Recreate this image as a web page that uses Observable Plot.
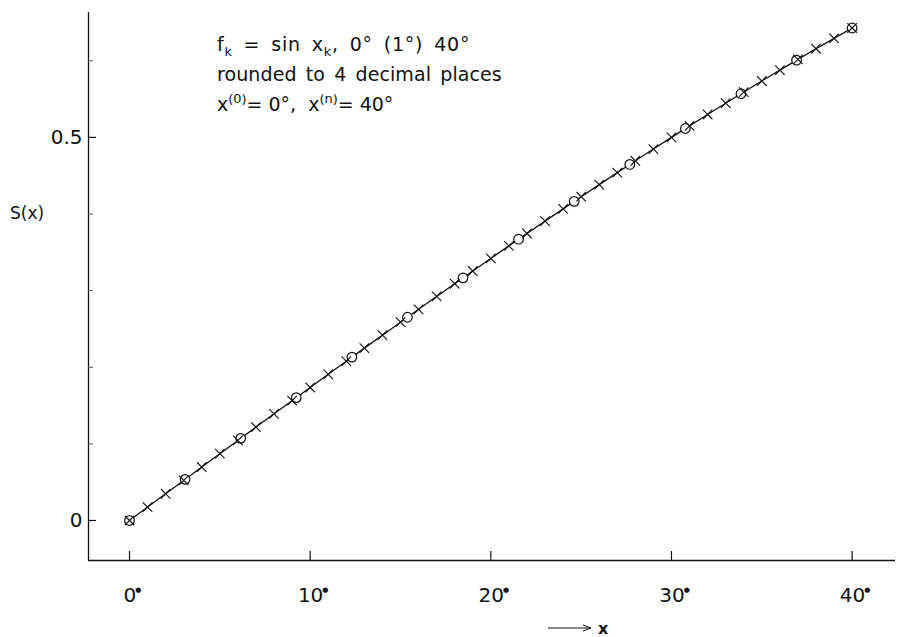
<!DOCTYPE html>
<html><head><meta charset="utf-8">
<script src="https://cdn.jsdelivr.net/npm/d3@7"></script>
<script src="https://cdn.jsdelivr.net/npm/@observablehq/plot@0.6"></script>
<style>body{margin:0;background:#fff} svg{display:block}</style>
</head><body><div id="chart"></div>
<script>
// x_k in degrees, 0° (1°) 40°
const degrees = [0,1,2,3,4,5,6,7,8,9,10,11,12,13,14,15,16,17,18,19,20,21,22,23,24,25,26,27,28,29,30,31,32,33,34,35,36,37,38,39,40];
// f_k = sin x_k rounded to 4 decimals (crosses)
const fValues = [0.0000,0.0175,0.0349,0.0523,0.0698,0.0872,0.1045,0.1219,0.1392,0.1564,0.1736,0.1908,0.2079,0.2250,0.2419,0.2588,0.2756,0.2924,0.3090,0.3256,0.3420,0.3584,0.3746,0.3907,0.4067,0.4226,0.4384,0.4540,0.4695,0.4848,0.5000,0.5150,0.5299,0.5446,0.5592,0.5736,0.5878,0.6018,0.6157,0.6293,0.6428];
// circle nodes of S(x)
const nodeX = [0,3.077,6.154,9.231,12.308,15.385,18.462,21.538,24.615,27.692,30.769,33.846,36.923,40];
const nodeS = [0.0000,0.0537,0.1072,0.1604,0.2132,0.2653,0.3167,0.3671,0.4165,0.4647,0.5116,0.5570,0.6008,0.6428];
// axes
const xDomain = [-2.27, 42.4];
const yDomain = [-0.0522, 0.663];
const xMajorTicks = [0,10,20,30,40];
const yMajorTicks = [0,0.5];
const yMajorLabels = ["0","0.5"];
const yMinorTicks = [0.1,0.2,0.3,0.4,0.6];

const W = 900, H = 637, mL = 88, mR = 5, mT = 12, mB = 77;
const fw = W - mL - mR, fh = H - mT - mB;
const font = "DejaVu Sans";

const crosses = degrees.map((d,i)=>({x:d, y:fValues[i]}));
const nodes = nodeX.map((d,i)=>({x:d, y:nodeS[i]}));

const svg = Plot.plot({
  width: W, height: H,
  marginLeft: mL, marginRight: mR, marginTop: mT, marginBottom: mB,
  x: {domain: xDomain, axis: null},
  y: {domain: yDomain, axis: null},
  style: {fontFamily: font, background: "#fff", color: "#111"},
  marks: [
    Plot.ruleX([xDomain[0]], {stroke: "#111", strokeWidth: 1.3}),
    Plot.ruleY([yDomain[0]], {stroke: "#111", strokeWidth: 1.3}),
    Plot.ruleX(xMajorTicks, {x: d=>d, insetTop: fh - 9, stroke: "#111", strokeWidth: 1.2}),
    Plot.ruleY(yMajorTicks, {y: d=>d, insetRight: fw - 8, stroke: "#111", strokeWidth: 1.2}),
    Plot.ruleY(yMinorTicks, {y: d=>d, insetRight: fw - 5, stroke: "#555", strokeWidth: 1}),
    Plot.text(xMajorTicks, {x: d=>d, text: d=>String(d), frameAnchor: "bottom", dy: 41, dx: 3, fontSize: 20, fill: "#111", className: "xlab"}),
    Plot.text(yMajorTicks, {y: d=>d, text: (d,i)=>yMajorLabels[i], frameAnchor: "left", dx: -6, textAnchor: "end", fontSize: 20, fill: "#111"}),
    Plot.line(crosses, {x: "x", y: "y", stroke: "#111", strokeWidth: 1.3}),
    Plot.dot(nodes, {x: "x", y: "y", r: 4.8, stroke: "#111", fill: "#fff", strokeWidth: 1.2}),
    Plot.dot(crosses, {x: "x", y: "y", symbol: "times", r: 4.4, stroke: "#111", strokeWidth: 1.1})
  ]
});
document.getElementById("chart").appendChild(svg);

const s = d3.select(svg);
// degree dots on x tick labels
s.selectAll("g.xlab text").each(function(){
  d3.select(this).append("tspan").attr("font-size", 7).attr("dx", -1).attr("dy", -10).text("\u25CF");
});

function rich(x, y, segs, size, ls, ws){
  const t = s.append("text").attr("x", x).attr("y", y)
    .attr("text-anchor", "start")
    .attr("font-family", font).attr("font-size", size).attr("fill", "#111")
    .attr("letter-spacing", ls).attr("word-spacing", ws);
  let shift = 0;
  segs.forEach(([txt, kind])=>{
    const sp = t.append("tspan").text(txt);
    const target = kind === "sub" ? 5 : kind === "sup" ? -8 : 0;
    sp.attr("dy", target - shift);
    shift = target;
    if (kind) sp.attr("font-size", size*0.68);
  });
  return t;
}
rich(217, 51, [["f"],["k","sub"],[" = sin x"],["k","sub"],[", 0° (1°) 40°"]], 19, 0.8, 4);
rich(217, 81, [["rounded to 4 decimal places"]], 19, 0.1, 3);
rich(217, 111, [["x"],["(0)","sup"],["= 0°,  x"],["(n)","sup"],["= 40°"]], 19, 0, 0);

// y label
s.append("text").attr("x", 10).attr("y", 219).attr("text-anchor","start").attr("font-family", font).attr("font-size", 17).attr("fill","#111").text("S(x)");

// arrow and x label
s.append("line").attr("x1", 548).attr("x2", 590).attr("y1", 628).attr("y2", 628).attr("stroke", "#111").attr("stroke-width", 1);
s.append("path").attr("d", "M583,625 L591,628 L583,631").attr("fill","none").attr("stroke","#111").attr("stroke-width",1);
s.append("text").attr("x", 598).attr("y", 634).attr("text-anchor","start").attr("font-family", font).attr("font-size", 16).attr("font-weight","bold").attr("fill","#111").text("x");
</script>
</body></html>
